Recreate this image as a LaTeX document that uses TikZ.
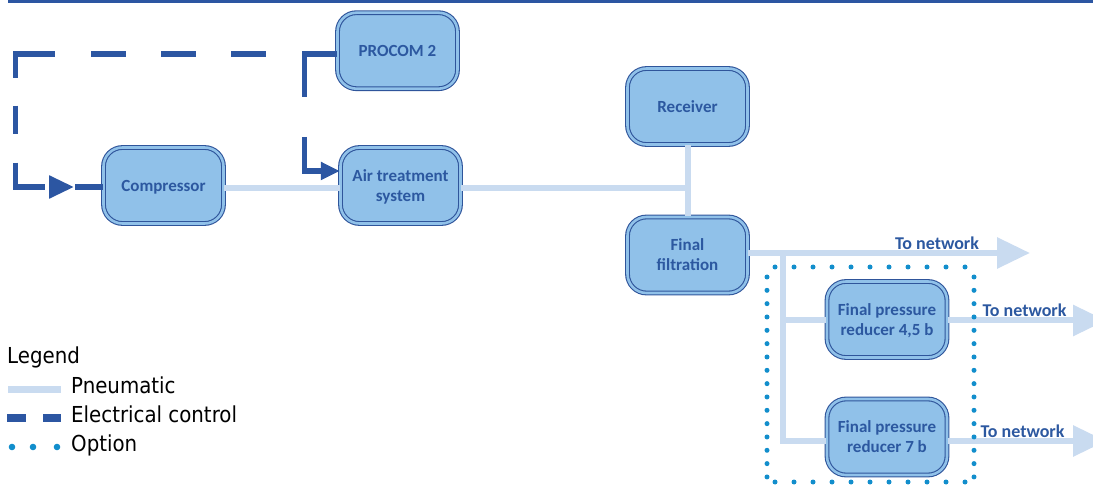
\documentclass[tikz,border=0pt]{standalone}
\usepackage{fontspec}
\setmainfont{Carlito}
\newfontfamily\legfam{DejaVu Sans Condensed}
\usetikzlibrary{arrows.meta}
\definecolor{boxfill}{RGB}{144,193,233}
\definecolor{boxline}{RGB}{47,85,155}
\definecolor{textblue}{RGB}{44,88,160}
\definecolor{pipec}{RGB}{201,219,240}
\definecolor{elecc}{RGB}{44,86,162}
\definecolor{optc}{RGB}{18,142,204}
\newcommand\boxfnt{\fontsize{17}{20}\selectfont\bfseries}
\newcommand\netfnt{\fontsize{18}{20}\selectfont\bfseries}
\newcommand\legfnt{\legfam\fontsize{22}{24}\selectfont}
\begin{document}
\begin{tikzpicture}[x=1pt,y=-1pt,
  box/.style={draw=boxline, line width=1.1pt, double=boxfill, double distance=2.6pt,
    fill=boxfill, rounded corners=19pt, minimum width=120pt, minimum height=76pt,
    inner sep=0pt, text depth=0pt, align=center, text=textblue, font=\boxfnt},
  pipe/.style={draw=pipec, line width=6pt},
  pipearrow/.style={pipe, -{Triangle[length=33pt,width=30pt]}},
  elec/.style={draw=elecc, line width=5.5pt},
  netlabel/.style={anchor=base, text=textblue, font=\netfnt, inner sep=0pt},
  legtext/.style={anchor=base west, font=\legfnt, inner sep=0pt, text=black},
  optdot/.style={fill=optc}]
\useasboundingbox (0,0) rectangle (1093,486);
\clip (0,0) rectangle (1093,486);
\fill[elecc] (8,0) rectangle (1093,3.5);
% boxes
\node[box] (procom) at (397.5,50.7) {PROCOM 2};
\node[box] (comp) at (163.5,185.5) {Compressor};
\node[box] (air) at (400.5,185.5) {Air treatment\\system};
\node[box] (rec) at (687.5,106.5) {Receiver};
\node[box] (filt) at (687.5,255) {Final\\filtration};
\node[box] (r45) at (887,319.5) {Final pressure\\reducer 4,5 b};
\node[box] (r7) at (887,437) {Final pressure\\reducer 7 b};
% pipes
\coordinate (j) at (687.5,188);
\coordinate (f) at (1030,253);
\coordinate (b) at (783,253);
\coordinate (t45) at (1106,320.5);
\coordinate (t7) at (1106,441);
\draw[pipe] (comp.east |- j) -- (air.west |- j);
\draw[pipe] (air.east |- j) -- (j);
\draw[pipe] (rec.south) -- (filt.north);
\draw[pipearrow] (filt.east |- f) -- (f);
\draw[pipe] (b) |- (r45.west |- t45);
\draw[pipe] (b) |- (r7.west |- t7);
\draw[pipearrow] (r45.east |- t45) -- (t45);
\draw[pipearrow] (r7.east |- t7) -- (t7);
\node[netlabel] (n1) at (937,250) {To network};
\node[netlabel] (n2) at (1024.5,317) {To network};
\node[netlabel] (n3) at (1022.5,438) {To network};
% electrical control
\coordinate (e1) at (15.5,54);
\coordinate (e2) at (15.5,187);
\coordinate (e3) at (74,187);
\coordinate (e4) at (304.5,54);
\coordinate (e5) at (304.5,171);
\draw[elec, dash pattern=on 35pt off 36pt on 35pt off 35pt on 35pt off 35pt on 35pt off 36pt on 63pt off 28pt on 28pt off 29pt on 54pt off 50pt,
  -{Triangle[length=25pt,width=22pt]}] (procom.west |- e1) -- (e1) -- (e2) -- (e3);
\draw[elec] ([xshift=1pt]e3) -- (comp.west |- e3);
\draw[elec, dash pattern=on 43pt off 40pt on 200pt, -{Triangle[length=19pt,width=17pt]}]
  (e4) -- (e5) -- (air.west |- e5);
% option frame
\foreach \i in {0,...,10} {
  \fill[optdot] (775+19*\i,267) circle (2.5pt);
  \fill[optdot] (775+19*\i,482) circle (2.5pt);
}
\foreach \i in {0,...,15} {
  \fill[optdot] (767,277+13.33*\i) circle (2.5pt);
  \fill[optdot] (974,277+13.33*\i) circle (2.5pt);
}
% legend
\node[legtext] (lgd) at (7,364) {Legend};
\node[legtext] (lp) at (71,393) {Pneumatic};
\node[legtext] (le) at (71,422) {Electrical control};
\node[legtext] (lo) at (71,451) {Option};
\draw[pipe, line width=7pt] (8,389.5) -- (61,389.5);
\draw[elec, line width=7.5pt, dash pattern=on 19pt off 17pt] (7,418) -- (61,418);
\foreach \x in {12,33,57} \fill[optdot] (\x,447) circle (3.3pt);
\end{tikzpicture}
\end{document}
